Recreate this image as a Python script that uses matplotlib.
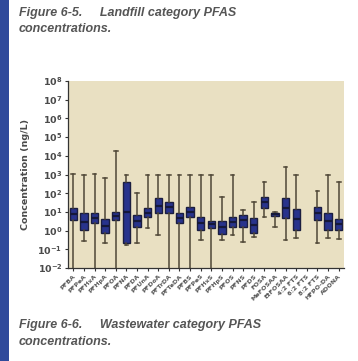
import numpy as np
import matplotlib
matplotlib.use("Agg")
import matplotlib.pyplot as plt
from matplotlib.patches import Rectangle

# PFAS analytes (x axis), one box per analyte
analytes = ["PFBA", "PFPeA", "PFHxA", "PFHpA", "PFOA", "PFNA", "PFDA", "PFUnA",
            "PFDoA", "PFTrDA", "PFTeDA", "PFBS", "PFPeS", "PFHxS", "PFHpS", "PFOS",
            "PFNS", "PFDS", "FOSA", "MeFOSAA", "EtFOSAA", "4:2 FTS", "6:2 FTS",
            "8:2 FTS", "HFPO-DA", "ADONA"]

# log10 concentration (ng/L); None = no data for that analyte
whis_hi = [3.05, 3.0, 3.05, 2.8, 4.26, 3.0, 2.0, 3.0, 3.0, 3.0, 3.0, 3.0, 3.0,
           3.0, 1.81, 3.0, 1.10, 1.54, 2.61, 1.0, 3.38, 3.0, None, 2.13, 3.0, 2.61]
q3 = [1.19, 0.92, 0.95, 0.60, 1.0, 2.61, 0.83, 1.19, 1.72, 1.54, 0.92, 1.24, 0.71,
      0.53, 0.53, 0.71, 0.83, 0.65, 1.81, 0.95, 1.72, 1.13, None, 1.27, 0.92, 0.60]
median = [0.88, 0.46, 0.67, 0.24, 0.78, 1.0, 0.51, 0.94, 1.31, 1.24, 0.67, 0.99, 0.40,
          0.35, 0.19, 0.46, 0.56, 0.29, 1.52, 0.88, 1.2, 0.62, None, 0.94, 0.51, 0.35]
q1 = [0.56, 0.03, 0.39, -0.12, 0.56, -0.68, 0.21, 0.71, 0.92, 0.92, 0.39, 0.71, 0.03,
      0.12, -0.18, 0.21, 0.21, -0.12, 1.19, 0.80, 0.65, 0.03, None, 0.56, 0.03, 0.03]
whis_lo = [-2.5, -0.54, -2.5, -0.65, -2.5, -0.77, -0.65, 0.12, -0.24, -2.5, -2.5, -2.5,
           -0.5, -2.5, -0.5, -0.24, -0.61, -0.33, 0.74, 0.21, -0.5, -0.41, None, -0.65,
           -0.41, -0.47]

yticks = list(range(-2, 9))

fig = plt.figure(figsize=(3.58, 3.61), dpi=100)
fig.patch.set_facecolor("white")

# blue page margin stripe
fig.add_artist(Rectangle((0, 0), 9 / 358, 1, transform=fig.transFigure,
                         facecolor="#2f4a9b", edgecolor="none"))

cap_kw = dict(family="Liberation Sans", fontweight="bold", style="italic",
              color="#555555", fontsize=9.0)
fig.text(19 / 358, 1 - 13 / 361, "Figure 6-5.     Landfill category PFAS",
         va="center", **cap_kw)
fig.text(19 / 358, 1 - 29 / 361, "concentrations.", va="center", **cap_kw)
fig.text(19 / 358, 1 - 325 / 361, "Figure 6-6.     Wastewater category PFAS",
         va="center", **cap_kw)
fig.text(19 / 358, 1 - 342 / 361, "concentrations.", va="center", **cap_kw)

ax = fig.add_axes([68 / 358, 1 - 268 / 361, 276 / 358, 187 / 361])
ax.set_facecolor("#e9e0c2")

stats = []
pos = []
for i in range(len(analytes)):
    if median[i] is None:
        continue
    stats.append(dict(med=10 ** median[i], q1=10 ** q1[i], q3=10 ** q3[i],
                      whislo=10 ** whis_lo[i], whishi=10 ** whis_hi[i], fliers=[]))
    pos.append(i)

ax.bxp(stats, positions=pos, widths=0.7, capwidths=0.35, patch_artist=True,
       showfliers=False,
       boxprops=dict(facecolor="#28338c", edgecolor="#1b1e40", linewidth=1.0),
       whiskerprops=dict(color="#4f4737", linewidth=1.1),
       capprops=dict(color="#4f4737", linewidth=1.1),
       medianprops=dict(color="#15183a", linewidth=1.6))

ax.set_yscale("log")
ax.set_ylim(1e-2, 1e8)
ax.set_xlim(-0.5, len(analytes) - 0.5)
ax.set_yticks([10.0 ** k for k in yticks])
ax.set_yticklabels([r"$\mathbf{10^{%d}}$" % k for k in yticks],
                   fontsize=6.8, color="#4a4a4a")
ax.yaxis.set_minor_locator(matplotlib.ticker.NullLocator())
ax.set_xticks(range(len(analytes)))
ax.set_xticklabels(analytes, rotation=45, ha="right", rotation_mode="anchor",
                   fontsize=4.6, color="#555555", fontweight="bold")
ax.tick_params(axis="both", length=2.5, width=0.8, color="#333333", pad=1.5)
ax.set_ylabel("Concentration (ng/L)", fontsize=6.8, color="#4a4a4a",
              fontweight="bold", labelpad=5)

for side in ("top", "right"):
    ax.spines[side].set_visible(False)
for side in ("left", "bottom"):
    ax.spines[side].set_color("#333333")
    ax.spines[side].set_linewidth(0.9)

fig.savefig("out.png", dpi=100)
